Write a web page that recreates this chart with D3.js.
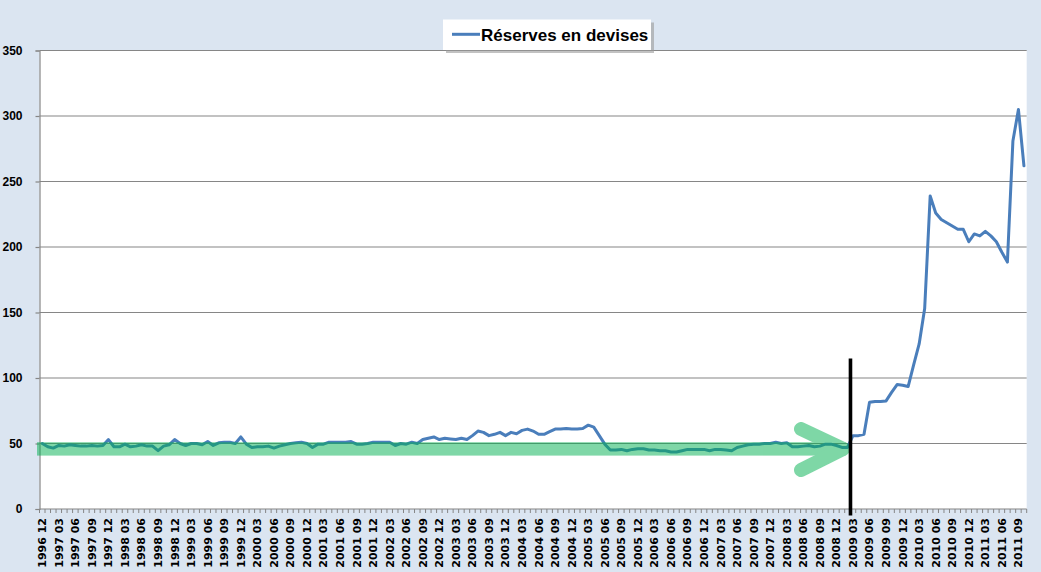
<!DOCTYPE html>
<html><head><meta charset="utf-8">
<script src="https://cdn.jsdelivr.net/npm/d3@7"></script>
<style>
html,body{margin:0;padding:0;background:#dbe5f1;}
svg{display:block;}
</style></head>
<body>
<svg id="c" width="1041" height="572"></svg>
<script>
// ---- data ----
const startYear = 1996, startMonth = 12;
const seriesName = "Réserves en devises";
const values = [
 50,47.5,46.5,48.5,48,49,48.5,48,48,48.5,48,48.5,
 53,47.5,47.5,49.5,47.5,48,49,48,48,44.5,48,49,
 53,50,48.5,50,50,49,51.5,48.5,50.5,51,51,50,
 55,49.5,47,47.5,47.5,48,46.5,48,49,50,50.5,51,
 50,47,49.5,49.5,51,51,51,51,51.5,49.5,49.5,50,
 51,51,51,51,48.5,50,49.5,51,50,53,54,55,
 53,54,53.5,53,54,53,56,59.5,58.5,56,57,58.5,
 56,58.5,57.5,60,61,59.5,57,57,59,61,61,61.5,
 61,61,61.5,64,62.5,56,49.5,45,45,45.5,44.5,45.5,
 46,46,45,45,44.5,44.5,43.5,43.5,44.5,45.5,45.5,45.5,
 45.5,44.5,45.5,45.5,45,44.5,47,48,49,49.5,49.5,50,
 50,51,50,50.5,47.5,47.5,48,48.5,47.5,48,49.5,49.5,
 48.5,47,47,56,56,57,81.5,82,82,82.5,89,95,
 94.5,93.5,110,126,153,239,226,221,218.5,216,213.5,213.5,
 204,210,208.5,212,208.5,204,196,188.5,281,305,262
];
const categories = values.map((v,i)=>{
  const m = startMonth - 1 + i;
  const y = startYear + Math.floor(m/12);
  const mm = (m % 12) + 1;
  return y + " " + String(mm).padStart(2,"0");
});
const yTicks = [0,50,100,150,200,250,300,350];
const labelEvery = 3;
const markerCategory = "2009 03";

// ---- layout ----
const svg = d3.select("#c");
const X0 = 39.5, X1 = 1026.7, Y0 = 509, Y1 = 50.5;

svg.append("rect").attr("x",0).attr("y",0).attr("width",1041).attr("height",572).attr("fill","#dbe5f1");
svg.append("rect").attr("x",X0).attr("y",Y1).attr("width",X1-X0).attr("height",Y0-Y1).attr("fill","#ffffff");

const x = d3.scaleBand().domain(categories).range([X0,X1]).padding(0);
const y = d3.scaleLinear().domain([0,350]).range([Y0,Y1]);
const cx = c => x(c) + x.bandwidth()/2;

// gridlines
svg.append("g").selectAll("line").data(yTicks.filter(t=>t>0)).join("line")
  .attr("x1",X0).attr("x2",X1).attr("y1",d=>y(d)).attr("y2",d=>y(d))
  .attr("stroke","#868686").attr("stroke-width",1.2);

// y axis
const yAxis = svg.append("g").attr("transform",`translate(${X0},0)`)
  .call(d3.axisLeft(y).tickValues(yTicks).tickSize(4).tickPadding(13).tickFormat(d3.format("d")));
yAxis.select(".domain").attr("stroke","#868686").attr("stroke-width",1.2);
yAxis.selectAll(".tick line").attr("stroke","#868686").attr("stroke-width",1.2);
yAxis.selectAll("text").attr("font-family","'Liberation Sans',Arial,sans-serif")
  .attr("font-weight","bold").attr("font-size","12px").attr("fill","#000");

// x axis line + monthly tick marks at band boundaries
svg.append("line").attr("x1",X0).attr("x2",X1).attr("y1",Y0).attr("y2",Y0)
  .attr("stroke","#868686").attr("stroke-width",1.2);
const bounds = categories.map(c=>x(c)).concat([X1]);
svg.append("g").selectAll("line").data(bounds).join("line")
  .attr("x1",d=>d).attr("x2",d=>d).attr("y1",Y0).attr("y2",Y0+4)
  .attr("stroke","#868686").attr("stroke-width",1);

// x labels (every 3 months)
const xAxis = svg.append("g").attr("transform",`translate(0,${Y0})`)
  .call(d3.axisBottom(x).tickValues(categories.filter((c,i)=>i%labelEvery===0)).tickSize(0));
xAxis.select(".domain").remove();
xAxis.selectAll("text")
  .attr("font-family","'DejaVu Sans',Verdana,sans-serif").attr("font-weight","bold")
  .attr("font-size","11px").attr("fill","#000")
  .attr("text-anchor","end").attr("y",0).attr("dy","0.36em")
  .attr("transform","translate(0,9) rotate(-90)");

// series line
const line = d3.line().x((d,i)=>cx(categories[i])).y(d=>y(d));
svg.append("path").datum(values).attr("d",line).attr("fill","none")
  .attr("stroke","#4a7ebb").attr("stroke-width",3).attr("stroke-linejoin","round").attr("stroke-linecap","round");

// green arrow overlay (semi-transparent)
const gA = svg.append("g").attr("opacity",0.5);
const bandY = y(46.5);
const tipX = 846;
gA.append("rect").attr("x",37).attr("y",442.2).attr("width",tipX-37-6).attr("height",13.4).attr("fill","#00b050");
gA.append("line").attr("x1",801).attr("y1",429).attr("x2",tipX-3).attr("y2",448.9)
  .attr("stroke","#00b050").attr("stroke-width",14).attr("stroke-linecap","round");
gA.append("line").attr("x1",801).attr("y1",470).attr("x2",tipX-3).attr("y2",448.9)
  .attr("stroke","#00b050").attr("stroke-width",14).attr("stroke-linecap","round");
gA.append("path").attr("d",`M${tipX-12},442.2 L${tipX+2},448.9 L${tipX-12},455.6 Z`).attr("fill","#00b050");

// black vertical marker
const mx = cx(markerCategory) - 2.5;
svg.append("line").attr("x1",mx).attr("x2",mx).attr("y1",358.5).attr("y2",515.5)
  .attr("stroke","#000").attr("stroke-width",3.6);

// legend
const lg = svg.append("g");
lg.append("rect").attr("x",446).attr("y",22.5).attr("width",208).attr("height",30.5).attr("fill","#9a9a9a").attr("opacity",0.6);
lg.append("rect").attr("x",443).attr("y",19.5).attr("width",208).attr("height",30.5).attr("fill","#fff");
lg.append("line").attr("x1",452).attr("x2",480).attr("y1",34.3).attr("y2",34.3).attr("stroke","#4a7ebb").attr("stroke-width",3);
lg.append("text").attr("x",481).attr("y",40.5).text(seriesName)
  .attr("font-family","'Liberation Sans',Arial,sans-serif").attr("font-weight","bold").attr("font-size","17px").attr("fill","#000");
</script>
</body></html>
